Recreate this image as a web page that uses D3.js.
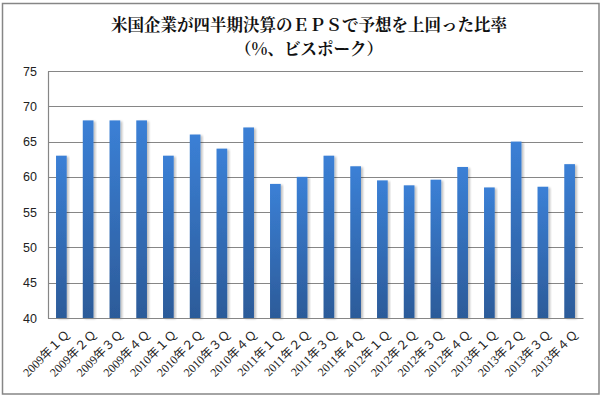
<!DOCTYPE html>
<html>
<head>
<meta charset="utf-8">
<script src="https://cdn.jsdelivr.net/npm/d3@7"></script>
<style>
  body { margin: 0; background: #fff; }
</style>
</head>
<body>
<div id="chart"></div>
<script>
// data
var years = ["2009", "2010", "2011", "2012", "2013"];
var quarters = ["１", "２", "３", "４"];
var categories = [];
years.forEach(function(y) {
    quarters.forEach(function(q) { categories.push(y + "年" + q + "Ｑ"); });
});
var values = [63, 68, 68, 68, 63, 66, 64, 67, 59, 60, 63, 61.5, 59.5, 58.8, 59.6, 61.4, 58.5, 65, 58.6, 61.8];
var yTicks = [40, 45, 50, 55, 60, 65, 70, 75];
var titleLines = ["米国企業が四半期決算のＥＰＳで予想を上回った比率", "（%、ビスポーク）"];

var W = 603, H = 398;
var margin = {top: 71, right: 20, bottom: 80, left: 48};
var width = 583 - margin.left;
var height = 318 - margin.top;

var svg = d3.select("#chart").append("svg")
    .attr("width", W)
    .attr("height", H);

// outer frame
svg.append("rect")
    .attr("x", 2.5).attr("y", 3.5)
    .attr("width", 596.5).attr("height", 390.5)
    .attr("fill", "#fff")
    .attr("stroke", "#868686")
    .attr("stroke-width", 1.5);

var defs = svg.append("defs");
var grad = defs.append("linearGradient")
    .attr("id", "barGrad")
    .attr("x1", 0).attr("y1", 0).attr("x2", 0).attr("y2", 1);
grad.append("stop").attr("offset", "0%").attr("stop-color", "#3b80d6");
grad.append("stop").attr("offset", "100%").attr("stop-color", "#2c5b99");

var shadow = defs.append("filter").attr("id", "shadow")
    .attr("x", "-30%").attr("y", "-10%").attr("width", "160%").attr("height", "120%");
shadow.append("feGaussianBlur").attr("in", "SourceAlpha").attr("stdDeviation", 1.2);
shadow.append("feOffset").attr("dx", 1.5).attr("dy", 1).attr("result", "b");
shadow.append("feComponentTransfer").append("feFuncA").attr("type", "linear").attr("slope", 0.25);
var merge = shadow.append("feMerge");
merge.append("feMergeNode");
merge.append("feMergeNode").attr("in", "SourceGraphic");

var g = svg.append("g")
    .attr("transform", "translate(" + margin.left + "," + margin.top + ")");

var x = d3.scaleBand()
    .domain(categories)
    .range([0, width])
    .paddingInner(0.6)
    .paddingOuter(0.3);

var y = d3.scaleLinear()
    .domain([40, 75])
    .range([height, 0]);

// gridlines
g.selectAll("line.grid")
    .data(yTicks)
    .enter().append("line")
    .attr("class", "grid")
    .attr("x1", 0).attr("x2", width)
    .attr("y1", function(d) { return Math.round(y(d)) + 0.5; })
    .attr("y2", function(d) { return Math.round(y(d)) + 0.5; })
    .attr("stroke", "#868686")
    .attr("stroke-width", 1.2);

// y axis
var yAxis = g.append("g")
    .call(d3.axisLeft(y).tickValues(yTicks).tickSize(0).tickPadding(11));
yAxis.select(".domain").attr("stroke", "#868686").attr("stroke-width", 1.2);
yAxis.selectAll("text")
    .attr("font-family", "Liberation Sans, Arial, sans-serif")
    .attr("font-size", 12.5)
    .attr("fill", "#222");

// bars
g.selectAll("rect.bar")
    .data(values)
    .enter().append("rect")
    .attr("class", "bar")
    .attr("x", function(d, i) { return x(categories[i]); })
    .attr("y", function(d) { return y(d); })
    .attr("width", x.bandwidth())
    .attr("height", function(d) { return height - y(d); })
    .attr("fill", "url(#barGrad)")
    .attr("filter", "url(#shadow)");

// x axis
var xAxis = g.append("g")
    .attr("transform", "translate(0," + height + ")")
    .call(d3.axisBottom(x).tickSize(0).tickPadding(0));
xAxis.select(".domain").attr("stroke", "#868686").attr("stroke-width", 1.2);
xAxis.selectAll("text")
    .attr("font-family", "Liberation Serif, Noto Sans CJK JP, serif")
    .attr("font-size", 12)
    .attr("fill", "#222")
    .attr("text-anchor", "end")
    .attr("dy", 0)
    .attr("transform", "translate(9,17) rotate(-45)");

// title
svg.append("g").selectAll("text")
    .data(titleLines)
    .enter().append("text")
    .attr("x", 309)
    .attr("y", function(d, i) { return 31 + i * 24; })
    .attr("text-anchor", "middle")
    .attr("font-family", "Noto Serif CJK JP, Noto Sans CJK JP, serif")
    .attr("font-weight", "bold")
    .attr("font-size", 16.5)
    .attr("fill", "#111")
    .text(function(d) { return d; });
</script>
</body>
</html>
